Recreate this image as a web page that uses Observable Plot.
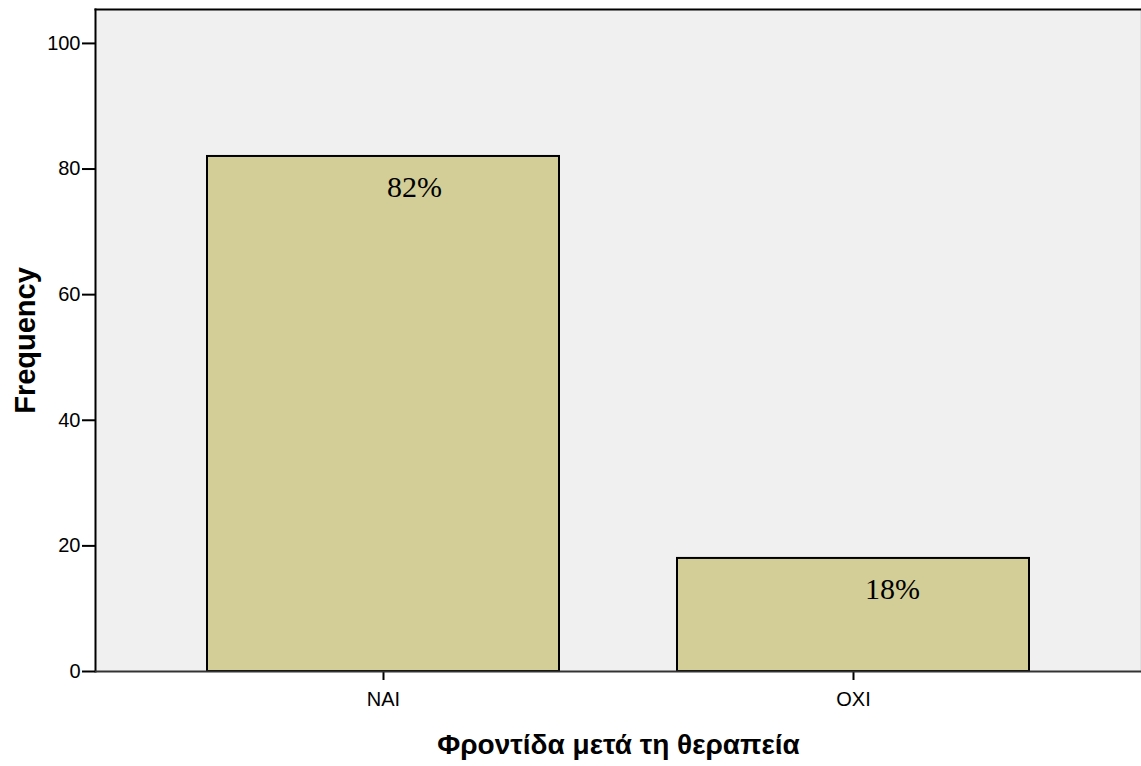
<!DOCTYPE html>
<html>
<head>
<meta charset="utf-8">
<script src="https://cdn.jsdelivr.net/npm/d3@7"></script>
<script src="https://cdn.jsdelivr.net/npm/@observablehq/plot@0.6"></script>
<style>
  html, body { margin: 0; padding: 0; background: #ffffff; }
  #chart svg { display: block; }
</style>
</head>
<body>
<div id="chart"></div>
<script>
const categories = ["NAI", "OXI"];
const frequencies = [82, 18];
const percentLabels = ["82%", "18%"];
const yTicks = [0, 20, 40, 60, 80, 100];
const xTitle = "Φροντίδα μετά τη θεραπεία";
const yTitle = "Frequency";

const data = categories.map((c, i) => ({cat: c, freq: frequencies[i], pct: percentLabels[i]}));

const sans = "Liberation Sans, Arial, Helvetica, sans-serif";
const serif = "Liberation Serif, Times New Roman, serif";

const labelStyle = {x: "cat", y: "freq", text: "pct", dy: 31, lineAnchor: "middle",
  fontFamily: serif, fontSize: 30, fill: "#000"};

const chart = Plot.plot({
  width: 1141,
  height: 766,
  marginLeft: 95,
  marginRight: 0,
  marginTop: 9,
  marginBottom: 95,
  style: {background: "#ffffff", fontFamily: sans, color: "#000"},
  x: {domain: categories, paddingInner: 0.2505, paddingOuter: 0.2357, label: null},
  y: {domain: [0, 105.4], label: null},
  marks: [
    Plot.frame({fill: "#f0f0f0", stroke: null}),
    Plot.frame({anchor: "right", stroke: "#cfcfcf", strokeWidth: 2}),
    Plot.barY(data, {x: "cat", y: "freq", fill: "#d3ce97", stroke: "#000", strokeWidth: 2}),
    Plot.text(data.slice(0, 1), {...labelStyle, dx: 31}),
    Plot.text(data.slice(1), {...labelStyle, dx: 39}),
    Plot.frame({anchor: "left", stroke: "#000", strokeWidth: 2}),
    Plot.frame({anchor: "top", stroke: "#000", strokeWidth: 2}),
    Plot.axisY({ticks: yTicks, tickSize: 13, tickPadding: 2, fontSize: 20, strokeWidth: 2, stroke: "#000", label: null, tickFormat: d => String(d)}),
    Plot.axisX({tickSize: 9, tickPadding: 11, fontSize: 20, strokeWidth: 2, stroke: "#000", label: null}),
    Plot.ruleY([0], {stroke: "#333", strokeWidth: 2}),
    Plot.text([yTitle], {frameAnchor: "left", textAnchor: "middle", lineAnchor: "middle", dx: -70, rotate: -90, fontSize: 29, fontWeight: "bold", fill: "#000"}),
    Plot.text([xTitle], {frameAnchor: "bottom", lineAnchor: "middle", dy: 74, fontSize: 28, fontWeight: "bold", fill: "#000"})
  ]
});
document.getElementById("chart").appendChild(chart);
</script>
</body>
</html>
